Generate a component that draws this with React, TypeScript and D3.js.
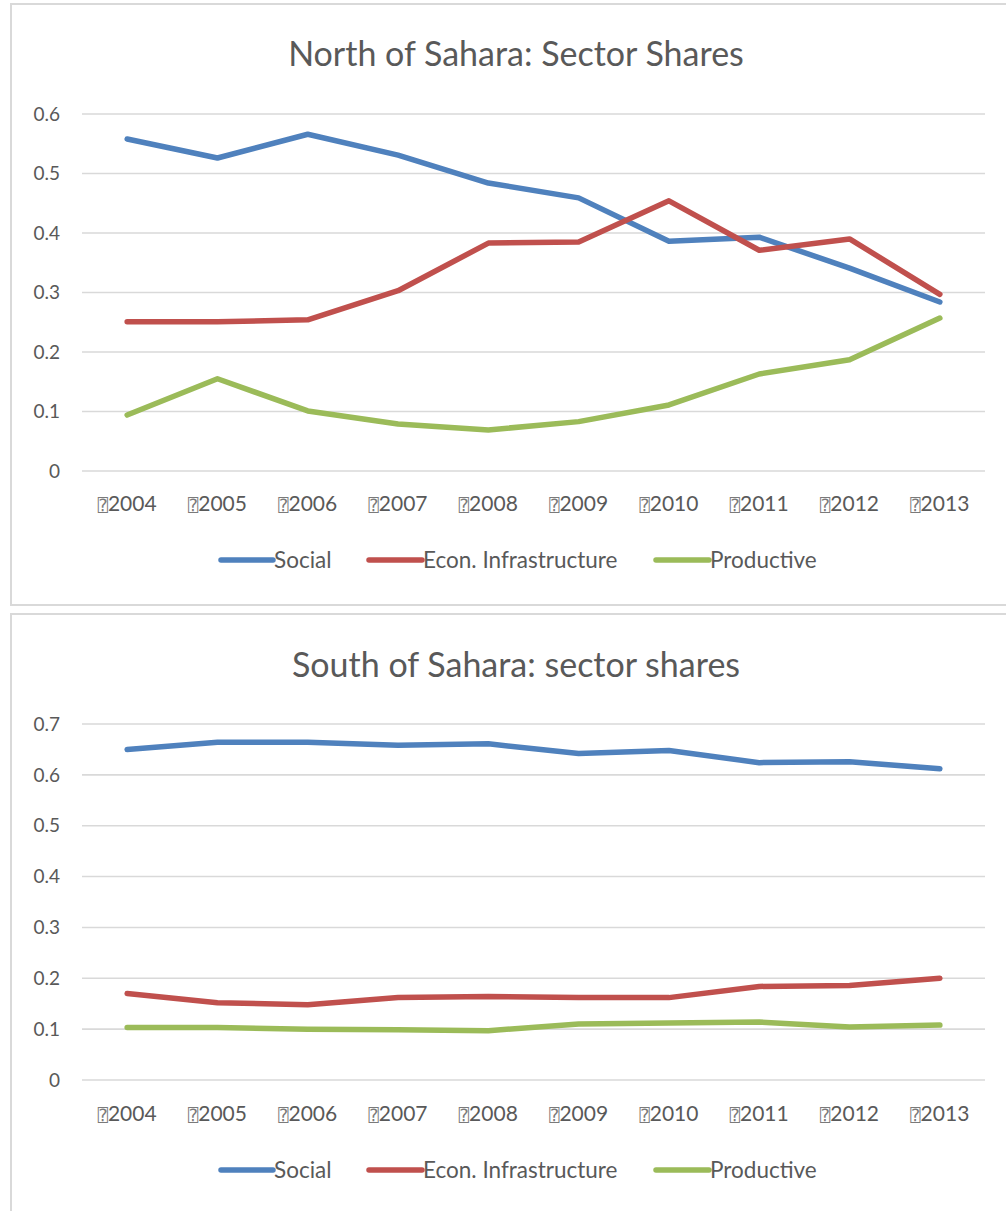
import React from "react";
import * as d3 from "d3";

// Years on the category axis
const years = ["2004", "2005", "2006", "2007", "2008", "2009", "2010", "2011", "2012", "2013"];

// North of Sahara shares by sector
const northSocial = [0.558, 0.526, 0.566, 0.531, 0.484, 0.459, 0.386, 0.393, 0.341, 0.284];
const northEcon = [0.251, 0.251, 0.254, 0.303, 0.383, 0.385, 0.454, 0.371, 0.39, 0.297];
const northProductive = [0.094, 0.155, 0.101, 0.079, 0.069, 0.083, 0.111, 0.163, 0.187, 0.257];

// South of Sahara shares by sector
const southSocial = [0.65, 0.664, 0.664, 0.658, 0.661, 0.642, 0.648, 0.624, 0.626, 0.612];
const southEcon = [0.17, 0.152, 0.148, 0.162, 0.164, 0.162, 0.162, 0.184, 0.186, 0.2];
const southProductive = [0.103, 0.103, 0.1, 0.099, 0.097, 0.11, 0.112, 0.114, 0.104, 0.108];

// Axis ticks
const northTicks = [0, 0.1, 0.2, 0.3, 0.4, 0.5, 0.6];
const southTicks = [0, 0.1, 0.2, 0.3, 0.4, 0.5, 0.6, 0.7];

const seriesNames = ["Social", "Econ. Infrastructure", "Productive"];
const seriesColors = ["#4f81bd", "#c0504d", "#9bbb59"];

const FONT = "Lato, 'Open Sans', sans-serif";
const TEXT = "#595959";
const GRID = "#d9d9d9";

type PanelProps = {
  title: string;
  top: number;
  height: number;
  plotTop: number;
  plotBottom: number;
  ticks: number[];
  series: number[][];
  xLabelY: number;
  legendY: number;
  titleY: number;
};

const legendLayout = [
  { x0: 221, x1: 273 },
  { x0: 369, x1: 422 },
  { x0: 656, x1: 709 },
];

function Panel({ title, top, height, plotTop, plotBottom, ticks, series, xLabelY, legendY, titleY }: PanelProps) {
  const x = d3.scaleBand<string>().domain(years).range([82, 985]).paddingInner(0).paddingOuter(0);
  const cx = (yr: string) => (x(yr) as number) + x.bandwidth() / 2;
  const y = d3.scaleLinear().domain([0, ticks[ticks.length - 1]]).range([plotBottom, plotTop]);
  const line = d3
    .line<number>()
    .x((_, i) => cx(years[i]))
    .y((d) => y(d));
  const fmt = (d: number) => (d === 0 ? "0" : d3.format(".1f")(d));

  return (
    <g>
      <rect x={11} y={top} width={1010} height={height} fill="#ffffff" stroke={GRID} strokeWidth={2} />
      <text x={516} y={titleY} textAnchor="middle" fontFamily={FONT} fontSize={34} fill={TEXT}>
        {title}
      </text>
      {ticks.map((t) => (
        <g key={t}>
          <line x1={82} x2={985} y1={y(t)} y2={y(t)} stroke={GRID} strokeWidth={1.6} />
          <text x={60} y={y(t)} dy="0.35em" textAnchor="end" fontFamily={FONT} fontSize={19} fill={TEXT}>
            {fmt(t)}
          </text>
        </g>
      ))}
      {years.map((yr) => (
        <text key={yr} x={cx(yr)} y={xLabelY} textAnchor="middle" fontFamily={FONT} fontSize={21} fill={TEXT}>
          <tspan fontFamily="'DejaVu Sans Mono', 'DejaVu Sans', monospace" fontSize={17} fill="#7a7a7a">⍰</tspan>
          {yr}
        </text>
      ))}
      {series.map((vals, i) => (
        <path
          key={i}
          d={line(vals) as string}
          fill="none"
          stroke={seriesColors[i]}
          strokeWidth={5.5}
          strokeLinejoin="round"
          strokeLinecap="round"
        />
      ))}
      {seriesNames.map((name, i) => (
        <g key={name}>
          <line
            x1={legendLayout[i].x0}
            x2={legendLayout[i].x1}
            y1={legendY}
            y2={legendY}
            stroke={seriesColors[i]}
            strokeWidth={5.5}
            strokeLinecap="round"
          />
          <text x={legendLayout[i].x1 + 1} y={legendY} dy="0.35em" fontFamily={FONT} fontSize={22.5} fill={TEXT}>
            {name}
          </text>
        </g>
      ))}
    </g>
  );
}

export default function App() {
  return (
    <svg
      width={1006}
      height={1211}
      style={{ position: "absolute", left: 0, top: 0, background: "#ffffff" }}
    >
      <rect x={0} y={0} width={1006} height={1211} fill="#ffffff" />
      <Panel
        title="North of Sahara: Sector Shares"
        top={4}
        height={601}
        plotTop={114}
        plotBottom={471}
        ticks={northTicks}
        series={[northSocial, northEcon, northProductive]}
        xLabelY={511}
        legendY={560}
        titleY={66}
      />
      <Panel
        title="South of Sahara: sector shares"
        top={614}
        height={620}
        plotTop={724}
        plotBottom={1080}
        ticks={southTicks}
        series={[southSocial, southEcon, southProductive]}
        xLabelY={1121}
        legendY={1170}
        titleY={677}
      />
    </svg>
  );
}
